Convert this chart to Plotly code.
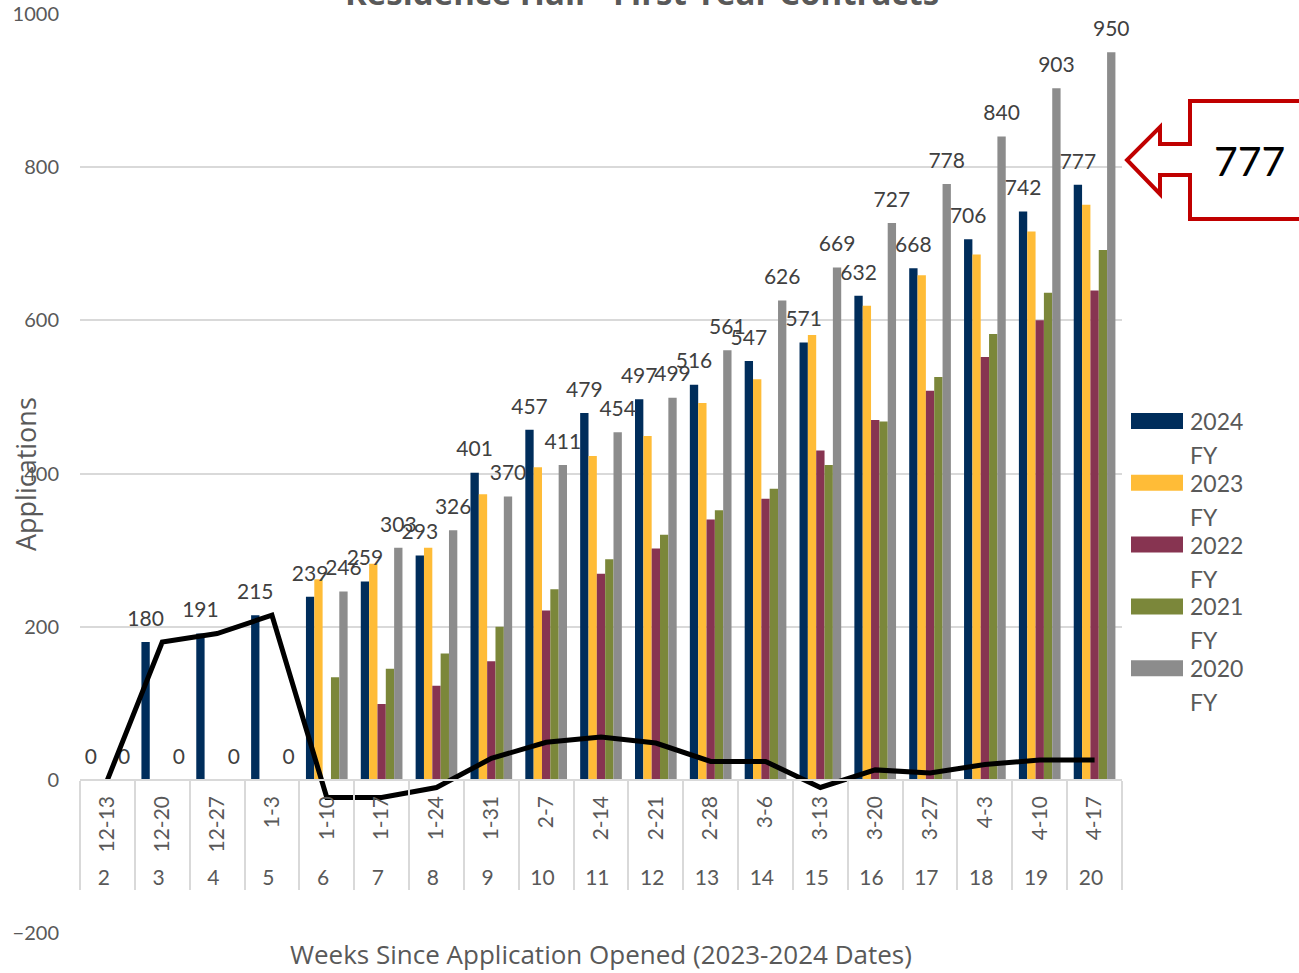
import plotly.graph_objects as go

# ---- data ----
weeks = [str(w) for w in range(2, 21)]
dates = ['12-13', '12-20', '12-27', '1-3', '1-10', '1-17', '1-24', '1-31', '2-7', '2-14',
         '2-21', '2-28', '3-6', '3-13', '3-20', '3-27', '4-3', '4-10', '4-17']

fy2024 = [0, 180, 191, 215, 239, 259, 293, 401, 457, 479, 497, 516, 547, 571, 632, 668, 706, 742, 777]
fy2023 = [0, 0, 0, 0, 262, 282, 303, 373, 408, 423, 449, 492, 523, 581, 619, 659, 686, 716, 751]
fy2022 = [0, 0, 0, 0, 0, 99, 123, 155, 221, 269, 302, 340, 367, 430, 470, 508, 552, 600, 639]
fy2021 = [0, 0, 0, 0, 134, 145, 165, 200, 249, 288, 320, 352, 380, 411, 468, 526, 582, 636, 692]
fy2020 = [0, 0, 0, 0, 246, 303, 326, 370, 411, 454, 499, 561, 626, 669, 727, 778, 840, 903, 950]
change = [0, 180, 191, 215, -23, -23, -10, 28, 49, 56, 48, 24, 24, -10, 13, 9, 20, 26, 26]

series_names = ['2024', '2023', '2022', '2021', '2020']
series_values = [fy2024, fy2023, fy2022, fy2021, fy2020]
series_colors = ['#002D5B', '#FFBC37', '#873451', '#7B873A', '#8C8C8C']
labelled = ['2024', '2020']

callout_value = '777'

FONT = 'Lato'
TITLE_FONT = 'Open Sans'
GREY_TEXT = '#595959'
GRID = '#D9D9D9'

# plot area in pixels (for placing the hand-drawn pieces)
L, R, T, B = 80, 1122, 14, 933


def px_x(px):
    return (px - L) / (R - L)


def px_y(py):
    return (B - py) / (B - T)


x = [weeks, dates]

fig = go.Figure()

for i, (name, vals, col) in enumerate(zip(series_names, series_values, series_colors)):
    fig.add_trace(go.Bar(x=x, y=vals, name=name + ' FY', offsetgroup=str(i),
                         marker=dict(color=col, line=dict(width=0)),
                         showlegend=False, hoverinfo='skip'))

# data labels, grouped the same way as the bars
for i, (name, vals) in enumerate(zip(series_names, series_values)):
    fig.add_trace(go.Scatter(x=x, y=vals, mode='markers+text', offsetgroup=str(i),
                             text=[str(v) for v in vals] if name in labelled else None,
                             textposition='top center',
                             textfont=dict(family=FONT, size=21, color='#404040'),
                             marker=dict(size=16, opacity=0), cliponaxis=False,
                             showlegend=False, hoverinfo='skip'))

fig.add_trace(go.Scatter(x=x, y=change, mode='lines', offsetgroup='2',
                         line=dict(color='black', width=5), showlegend=False, hoverinfo='skip'))

shapes = []
annotations = []

# hand-drawn legend
for k, (name, col) in enumerate(zip(series_names, series_colors)):
    cy = 421 + k * 61.8
    shapes.append(dict(type='rect', xref='paper', yref='paper',
                       x0=px_x(1131), x1=px_x(1183), y0=px_y(cy + 8), y1=px_y(cy - 8),
                       fillcolor=col, line=dict(width=0)))
    annotations.append(dict(xref='paper', yref='paper', x=px_x(1188), y=px_y(cy), text=name,
                            xanchor='left', yanchor='middle', showarrow=False,
                            font=dict(family=FONT, size=23, color=GREY_TEXT)))
    annotations.append(dict(xref='paper', yref='paper', x=px_x(1188), y=px_y(cy + 34), text='FY',
                            xanchor='left', yanchor='middle', showarrow=False,
                            font=dict(family=FONT, size=23, color=GREY_TEXT)))

# red arrow callout
pts = [(1330, 101), (1190, 101), (1190, 144), (1160, 144), (1160, 127), (1127, 160),
       (1160, 194), (1160, 175), (1190, 175), (1190, 219), (1330, 219)]
path = 'M ' + ' L '.join(f'{px_x(a):.5f},{px_y(b):.5f}' for a, b in pts)
shapes.append(dict(type='path', xref='paper', yref='paper', path=path,
                   line=dict(color='#C00000', width=4), fillcolor='rgba(0,0,0,0)'))
annotations.append(dict(xref='paper', yref='paper', x=px_x(1249), y=px_y(161), text=callout_value,
                        showarrow=False, xanchor='center', yanchor='middle',
                        font=dict(family=FONT, size=41, color='black')))

# titles
annotations.append(dict(xref='paper', yref='paper', x=px_x(642), y=px_y(-8),
                        text='<b>Residence Hall - First Year Contracts</b>', showarrow=False,
                        xanchor='center', yanchor='middle',
                        font=dict(family=TITLE_FONT, size=33, color=GREY_TEXT)))
annotations.append(dict(xref='paper', yref='paper', x=px_x(25), y=px_y(474), text='Applications',
                        textangle=-90, showarrow=False, xanchor='center', yanchor='middle',
                        font=dict(family=TITLE_FONT, size=27, color=GREY_TEXT)))
annotations.append(dict(xref='paper', yref='paper', x=px_x(601), y=px_y(954),
                        text='Weeks Since Application Opened (2023-2024 Dates)', showarrow=False,
                        xanchor='center', yanchor='middle',
                        font=dict(family=TITLE_FONT, size=26, color=GREY_TEXT)))

fig.update_layout(
    template='none',
    width=1299, height=973,
    margin=dict(l=L, r=1299 - R, t=T, b=973 - B, autoexpand=False),
    paper_bgcolor='white', plot_bgcolor='white',
    barmode='group', bargap=0.24, bargroupgap=0,
    scattermode='group', scattergap=0.24,
    shapes=shapes, annotations=annotations,
    showlegend=False,
)

fig.update_yaxes(range=[-200, 1000], dtick=200, showgrid=True, gridcolor=GRID, gridwidth=1.5,
                 zeroline=False, showline=False, ticks='', ticklabelstandoff=20, automargin=False,
                 tickfont=dict(family=FONT, size=20, color=GREY_TEXT))

fig.update_xaxes(type='multicategory', anchor='free', position=200 / 1200, automargin=False,
                 showline=True, linecolor=GRID, linewidth=1.5,
                 showdividers=True, dividercolor=GRID, dividerwidth=1.5,
                 tickangle=-90, ticks='', showgrid=False, ticklabelstandoff=7,
                 tickfont=dict(family=FONT, size=21, color=GREY_TEXT))

fig.write_html('out.html', config={'displayModeBar': False},
               post_script="document.body.style.margin='0';")
